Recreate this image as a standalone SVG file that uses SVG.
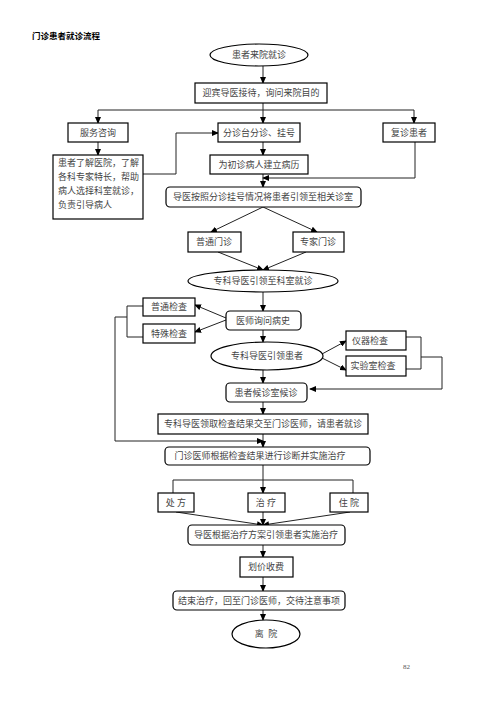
<svg xmlns="http://www.w3.org/2000/svg" width="496" height="702" viewBox="0 0 496 702">
<defs>
<marker id="ah" markerWidth="7" markerHeight="6" refX="6" refY="3" orient="auto" markerUnits="userSpaceOnUse">
<path d="M0,0 L7,3 L0,6 Z" fill="#000"/>
</marker>
<style>
text{font-family:"Liberation Serif","Noto Sans CJK SC",serif;font-size:9px;fill:#444;}
.c{text-anchor:middle;}
.b{fill:#fff;stroke:#000;stroke-width:1.2;}
.l{fill:none;stroke:#222;stroke-width:1;}
.a{fill:none;stroke:#222;stroke-width:1;marker-end:url(#ah);}
.t{font-weight:bold;font-size:8.5px;fill:#000;font-family:"Liberation Sans","Noto Sans CJK SC",sans-serif;}
</style>
</defs>
<rect width="496" height="702" fill="#fff"/>
<text class="t" x="32" y="39">门诊患者就诊流程</text>

<g id="connectors">
<path class="a" d="M263,66 V83"/>
<path class="l" d="M98,110 H414"/>
<path class="l" d="M263,103 V110"/>
<path class="a" d="M98,110 V123"/>
<path class="a" d="M263,110 V123"/>
<path class="a" d="M414,110 V123"/>
<path class="a" d="M98,142 V155"/>
<path class="a" d="M143,174 H176 V133 H218"/>
<path class="a" d="M263,142 V155"/>
<path class="a" d="M415,142 V178 H263"/>
<path class="a" d="M263,174 V187"/>
<path class="a" d="M263,207 L211,232"/>
<path class="a" d="M263,207 L317,232"/>
<path class="a" d="M218,252 L263,270"/>
<path class="a" d="M306,252 L263,270"/>
<path class="a" d="M263,292 V311"/>
<path class="a" d="M226,318 L195,305"/>
<path class="a" d="M226,320 L195,332"/>
<path class="l" d="M143,306 H127 V337 H143"/>
<path class="a" d="M127,317 H115 V441 H263"/>
<path class="a" d="M263,330 V342"/>
<path class="a" d="M322,354 L346,341"/>
<path class="a" d="M322,358 L346,370"/>
<path class="l" d="M406,337 H421 V369 H406"/>
<path class="a" d="M421,357 H442 V389 H310"/>
<path class="a" d="M263,370 V383"/>
<path class="a" d="M263,402 V414"/>
<path class="a" d="M263,434 V447"/>
<path class="l" d="M263,465 V480 M173,480 H353 M173,480 V493 M353,480 V493"/>
<path class="a" d="M263,480 V493"/>
<path class="a" d="M176,512 L263,525"/>
<path class="a" d="M263,512 V525"/>
<path class="a" d="M350,512 L263,525"/>
<path class="a" d="M263,545 V557"/>
<path class="a" d="M263,577 V591"/>
<path class="a" d="M263,610 V620"/>
</g>

<g id="n1"><ellipse class="b" cx="259" cy="55" rx="49" ry="11"/><text class="c" x="259" y="58">患者来院就诊</text></g>
<g id="n2"><rect class="b" x="195" y="83" width="132" height="20"/><text class="c" x="261" y="96">迎宾导医接待，询问来院目的</text></g>
<g id="n3"><rect class="b" x="68" y="123" width="60" height="19"/><text class="c" x="98" y="136">服务咨询</text></g>
<g id="n4"><rect class="b" x="218" y="123" width="82" height="19"/><text class="c" x="259" y="136">分诊台分诊、挂号</text></g>
<g id="n5"><rect class="b" x="383" y="123" width="52" height="19"/><text class="c" x="409" y="136">复诊患者</text></g>
<g id="n6"><rect class="b" x="53" y="155" width="90" height="64"/>
<text x="58" y="166">患者了解医院，了解</text>
<text x="58" y="180">各科专家特长，帮助</text>
<text x="58" y="194">病人选择科室就诊，</text>
<text x="58" y="208">负责引导病人</text></g>
<g id="n7"><rect class="b" x="210" y="155" width="98" height="19"/><text class="c" x="259" y="168">为初诊病人建立病历</text></g>
<g id="n8"><rect class="b" x="166" y="187" width="195" height="20" rx="4"/><text class="c" x="263" y="200">导医按照分诊挂号情况将患者引领至相关诊室</text></g>
<g id="n9"><rect class="b" x="188" y="232" width="53" height="20"/><text class="c" x="214" y="245">普通门诊</text></g>
<g id="n10"><rect class="b" x="293" y="232" width="51" height="20"/><text class="c" x="318" y="245">专家门诊</text></g>
<g id="n11"><ellipse class="b" cx="263" cy="281" rx="75" ry="11"/><text class="c" x="263" y="284">专科导医引领至科室就诊</text></g>
<g id="n12"><rect class="b" x="143" y="298" width="52" height="18"/><text class="c" x="169" y="310">普通检查</text></g>
<g id="n13"><rect class="b" x="143" y="324" width="52" height="19"/><text class="c" x="169" y="337">特殊检查</text></g>
<g id="n14"><rect class="b" x="226" y="311" width="75" height="19" rx="4"/><text class="c" x="263" y="324">医师询问病史</text></g>
<g id="n15"><ellipse class="b" cx="267" cy="356" rx="56" ry="14"/><text class="c" x="267" y="359">专科导医引领患者</text></g>
<g id="n16"><rect class="b" x="346" y="331" width="60" height="19"/><text class="c" x="370" y="344">仪器检查</text></g>
<g id="n17"><rect class="b" x="346" y="356" width="60" height="20"/><text class="c" x="373" y="369">实验室检查</text></g>
<g id="n18"><rect class="b" x="226" y="383" width="81" height="19" rx="4"/><text class="c" x="266" y="396">患者候诊室候诊</text></g>
<g id="n19"><rect class="b" x="158" y="414" width="210" height="20"/><text class="c" x="263" y="427">专科导医领取检查结果交至门诊医师，请患者就诊</text></g>
<g id="n20"><rect class="b" x="165" y="447" width="205" height="18" rx="4"/><text class="c" x="260" y="459">门诊医师根据检查结果进行诊断并实施治疗</text></g>
<g id="n21"><rect class="b" x="158" y="493" width="36" height="19"/><text class="c" x="176" y="506">处 方</text></g>
<g id="n22"><rect class="b" x="248" y="493" width="37" height="19"/><text class="c" x="266" y="506">治 疗</text></g>
<g id="n23"><rect class="b" x="330" y="493" width="38" height="19"/><text class="c" x="349" y="506">住 院</text></g>
<g id="n24"><rect class="b" x="188" y="525" width="157" height="20" rx="4"/><text class="c" x="266" y="538">导医根据治疗方案引领患者实施治疗</text></g>
<g id="n25"><rect class="b" x="240" y="557" width="53" height="20"/><text class="c" x="266" y="570">划价收费</text></g>
<g id="n26"><rect class="b" x="173" y="591" width="172" height="19" rx="4"/><text class="c" x="259" y="604">结束治疗，回至门诊医师，交待注意事项</text></g>
<g id="n27"><ellipse class="b" cx="266" cy="634" rx="34" ry="14"/><text class="c" x="266" y="637" xml:space="preserve">离  院</text></g>
<text x="403" y="669" style="font-size:7px;fill:#555">82</text>
</svg>
